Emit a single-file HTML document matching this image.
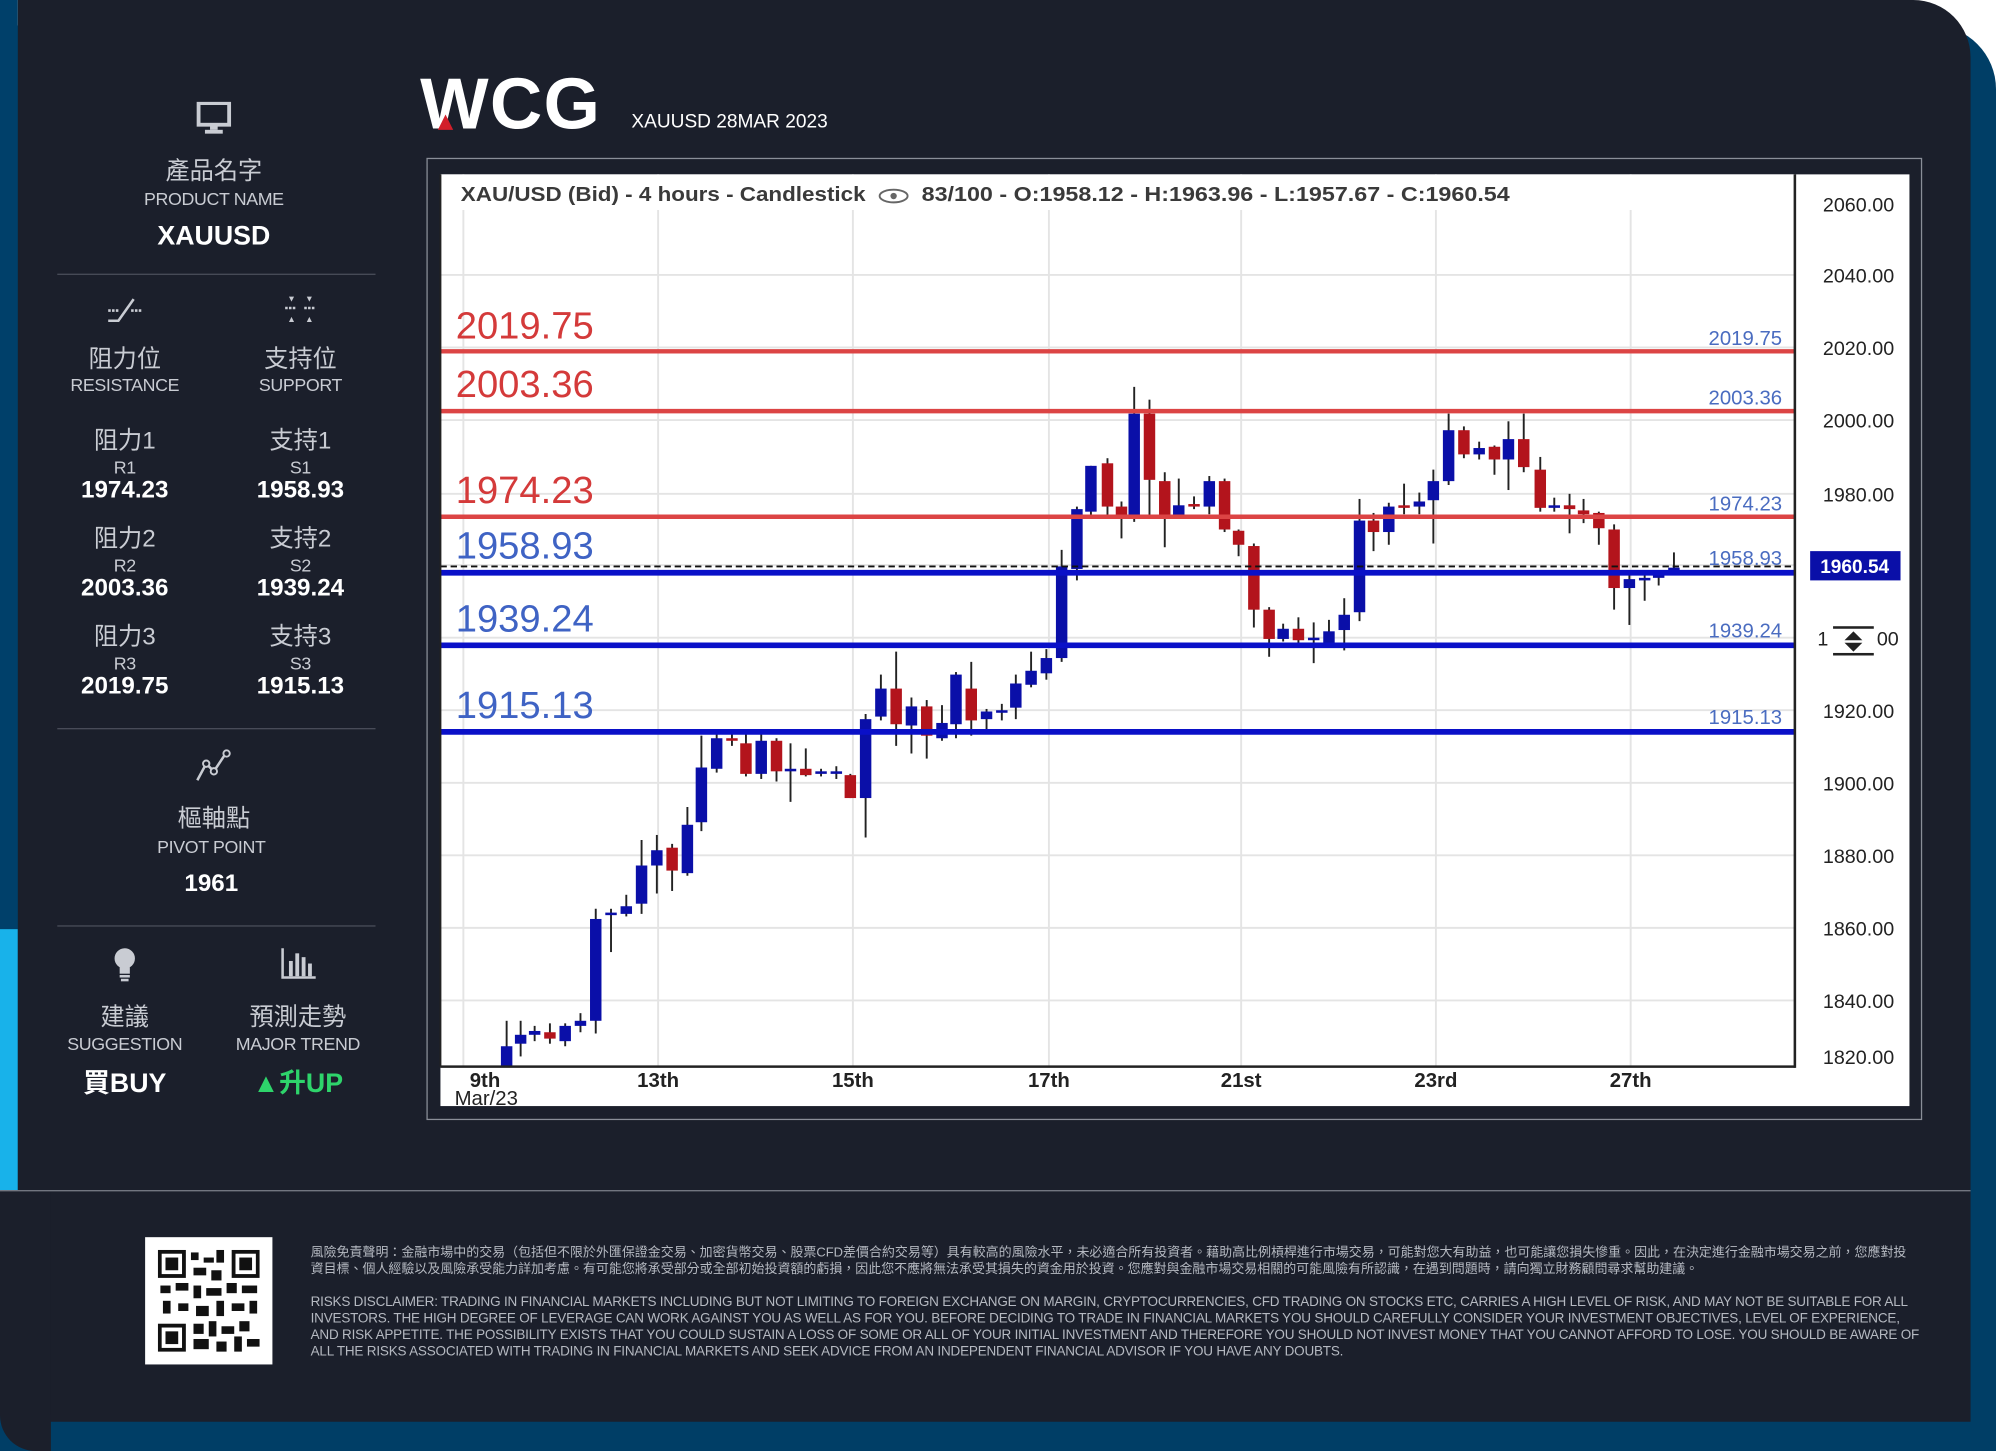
<!DOCTYPE html>
<html><head><meta charset="utf-8">
<style>
html,body{margin:0;padding:0;background:#fff;overflow:hidden}
#s{position:absolute;left:0;top:0;width:1568px;height:1140px;transform-origin:0 0;transform:scale(1.27296,1.27281);font-family:"Liberation Sans","Noto Sans CJK TC",sans-serif}
.a{position:absolute;white-space:nowrap;transform:translate(-50%,-50%);text-align:center}
.zh{color:#c9ccd3;font-size:19px}
.en{color:#c9ccd3;font-size:14px;letter-spacing:-0.3px}
.v{color:#fff;font-size:19px;font-weight:bold}
.ln{position:absolute;left:45px;width:250px;height:1px;background:#4a4e5a}
.disc{position:absolute;left:244px;color:#b5b9c1;font-size:10.6px;line-height:13px;width:1268px;letter-spacing:-0.15px}
</style></head><body>
<div id="s">
<div style="position:absolute;left:0;top:20px;width:1568px;height:1120px;background:#003e66;border-top-right-radius:50px"></div>
<div style="position:absolute;left:0;top:0;width:14px;height:1120px;background:#00406a"></div>
<div style="position:absolute;left:0;top:730px;width:14px;height:205px;background:#18b2ea"></div>
<div style="position:absolute;left:14px;top:0;width:1534px;height:1117px;background:#1b1f2b;border-top-right-radius:45px"></div>
<div style="position:absolute;left:0;top:935px;width:40px;height:205px;background:#1b1f2b;border-bottom-left-radius:28px"></div>
<div style="position:absolute;left:0;top:935px;width:1548px;height:1px;background:#7a7e88"></div>

<!-- left panel -->
<svg style="position:absolute;left:154px;top:80px" width="28" height="26"><rect x="2" y="1" width="24" height="17" fill="none" stroke="#c9ccd3" stroke-width="3"/><rect x="11" y="18" width="6" height="4" fill="#c9ccd3"/><rect x="7" y="22" width="14" height="3" fill="#c9ccd3"/></svg>
<div class="a zh" style="left:168px;top:133px">產品名字</div>
<div class="a en" style="left:168px;top:156px">PRODUCT NAME</div>
<div class="a v" style="left:168px;top:186px;font-size:21px">XAUUSD</div>
<div class="ln" style="top:215px"></div>
<svg style="position:absolute;left:83px;top:232px" width="30" height="22"><path d="M2 20 L10 20 L22 3" stroke="#c9ccd3" stroke-width="2" fill="none"/><path d="M2 12h8M20 12h8" stroke="#c9ccd3" stroke-width="2" stroke-dasharray="2 1"/></svg>
<svg style="position:absolute;left:221px;top:232px" width="30" height="22"><path d="M3 10h8M18 10h9" stroke="#c9ccd3" stroke-width="2" stroke-dasharray="2 1"/><path d="M6 1l2 4 2-4zM20 1l2 4 2-4zM6 21l2-4 2 4zM20 21l2-4 2 4z" fill="#c9ccd3"/></svg>
<div class="a zh" style="left:98px;top:281px">阻力位</div>
<div class="a en" style="left:98px;top:302px">RESISTANCE</div>
<div class="a zh" style="left:236px;top:281px">支持位</div>
<div class="a en" style="left:236px;top:302px">SUPPORT</div>
<div class="a zh" style="left:98px;top:345px">阻力1</div><div class="a en" style="left:98px;top:367px">R1</div><div class="a v" style="left:98px;top:386px">1974.23</div>
<div class="a zh" style="left:236px;top:345px">支持1</div><div class="a en" style="left:236px;top:367px">S1</div><div class="a v" style="left:236px;top:386px">1958.93</div>
<div class="a zh" style="left:98px;top:422px">阻力2</div><div class="a en" style="left:98px;top:444px">R2</div><div class="a v" style="left:98px;top:463px">2003.36</div>
<div class="a zh" style="left:236px;top:422px">支持2</div><div class="a en" style="left:236px;top:444px">S2</div><div class="a v" style="left:236px;top:463px">1939.24</div>
<div class="a zh" style="left:98px;top:499px">阻力3</div><div class="a en" style="left:98px;top:521px">R3</div><div class="a v" style="left:98px;top:540px">2019.75</div>
<div class="a zh" style="left:236px;top:499px">支持3</div><div class="a en" style="left:236px;top:521px">S3</div><div class="a v" style="left:236px;top:540px">1915.13</div>
<div class="ln" style="top:572px"></div>
<svg style="position:absolute;left:152px;top:588px" width="30" height="28"><path d="M3 25 L10 12 L16 18 L26 3" stroke="#c9ccd3" stroke-width="2" fill="none"/><circle cx="10" cy="12" r="2.5" fill="#1b1f2b" stroke="#c9ccd3" stroke-width="1.5"/><circle cx="16" cy="18" r="2.5" fill="#1b1f2b" stroke="#c9ccd3" stroke-width="1.5"/><circle cx="26" cy="4" r="2.5" fill="#1b1f2b" stroke="#c9ccd3" stroke-width="1.5"/></svg>
<div class="a zh" style="left:168px;top:642px">樞軸點</div>
<div class="a en" style="left:166px;top:665px">PIVOT POINT</div>
<div class="a v" style="left:166px;top:695px">1961</div>
<div class="ln" style="top:727px"></div>
<svg style="position:absolute;left:86px;top:743px" width="24" height="30"><circle cx="12" cy="10" r="8" fill="#c9ccd3"/><rect x="8" y="17" width="8" height="5" fill="#c9ccd3"/><rect x="8" y="23" width="8" height="2" fill="#c9ccd3"/><rect x="9" y="26" width="6" height="2" fill="#c9ccd3"/></svg>
<svg style="position:absolute;left:220px;top:743px" width="30" height="28"><path d="M2 2v23h26" stroke="#c9ccd3" stroke-width="2" fill="none"/><rect x="7" y="12" width="3" height="12" fill="#c9ccd3"/><rect x="12" y="6" width="3" height="18" fill="#c9ccd3"/><rect x="17" y="9" width="3" height="15" fill="#c9ccd3"/><rect x="22" y="14" width="3" height="10" fill="#c9ccd3"/></svg>
<div class="a zh" style="left:98px;top:798px">建議</div>
<div class="a en" style="left:98px;top:820px">SUGGESTION</div>
<div class="a zh" style="left:234px;top:798px">預測走勢</div>
<div class="a en" style="left:234px;top:820px">MAJOR TREND</div>
<div class="a v" style="left:98px;top:850px;font-size:21px">買BUY</div>
<div class="a v" style="left:234px;top:850px;font-size:21px;color:#2ed46b">▲升UP</div>

<!-- header -->
<div style="position:absolute;left:330px;top:50px;color:#fff;font-size:57px;font-weight:bold;letter-spacing:1px;line-height:64px">WCG</div>
<svg style="position:absolute;left:340px;top:86px" width="20" height="18"><path d="M10 4 L16 16 L4 16 Z" fill="#d21f2a"/></svg>
<div style="position:absolute;left:496px;top:87px;color:#fff;font-size:15px">XAUUSD 28MAR 2023</div>

<!-- chart frame -->
<div style="position:absolute;left:335px;top:124px;width:1175px;height:756px;border:1px solid #8a8e98;box-sizing:border-box"></div>
<svg style="position:absolute;left:0;top:0" width="1568" height="1140">
<rect x="346" y="137" width="1154" height="732" fill="#fff"/>
<g stroke="#e4e4e4" stroke-width="1.5">
<line x1="346" y1="160" x2="1410" y2="160"/><line x1="346" y1="216" x2="1410" y2="216"/><line x1="346" y1="273" x2="1410" y2="273"/><line x1="346" y1="330" x2="1410" y2="330"/><line x1="346" y1="388" x2="1410" y2="388"/><line x1="346" y1="444" x2="1410" y2="444"/><line x1="346" y1="501" x2="1410" y2="501"/><line x1="346" y1="558" x2="1410" y2="558"/><line x1="346" y1="615" x2="1410" y2="615"/><line x1="346" y1="672" x2="1410" y2="672"/><line x1="346" y1="729" x2="1410" y2="729"/><line x1="346" y1="786" x2="1410" y2="786"/>
<line x1="364" y1="137" x2="364" y2="838"/><line x1="517" y1="137" x2="517" y2="838"/><line x1="670" y1="137" x2="670" y2="838"/><line x1="824" y1="137" x2="824" y2="838"/><line x1="975" y1="137" x2="975" y2="838"/><line x1="1128" y1="137" x2="1128" y2="838"/><line x1="1281" y1="137" x2="1281" y2="838"/>
</g>
<rect x="346" y="137" width="1064" height="28" fill="#fff"/>
<text x="362" y="158" font-size="16" font-weight="bold" fill="#3a3a3a" font-family="Liberation Sans" textLength="318" lengthAdjust="spacingAndGlyphs">XAU/USD (Bid) - 4 hours - Candlestick</text>
<ellipse cx="702" cy="154" rx="11" ry="5" fill="none" stroke="#666" stroke-width="1.5"/><circle cx="702" cy="154" r="2.5" fill="#666"/>
<text x="724" y="158" font-size="16" font-weight="bold" fill="#3a3a3a" font-family="Liberation Sans" textLength="462" lengthAdjust="spacingAndGlyphs">83/100 - O:1958.12 - H:1963.96 - L:1957.67 - C:1960.54</text>
<g id="c" stroke="#222" stroke-width="1.5"></g>
<g stroke-width="3.5">
<line x1="346" y1="276" x2="1410" y2="276" stroke="#dc4444"/>
<line x1="346" y1="323" x2="1410" y2="323" stroke="#dc4444"/>
<line x1="346" y1="406" x2="1410" y2="406" stroke="#dc4444"/>
</g>
<line x1="346" y1="445" x2="1410" y2="445" stroke="#111" stroke-width="1.5" stroke-dasharray="5 3"/>
<g stroke="#0a10c8" stroke-width="4.5">
<line x1="346" y1="450" x2="1410" y2="450"/><line x1="346" y1="507" x2="1410" y2="507"/><line x1="346" y1="575" x2="1410" y2="575"/>
</g>
<g font-family="Liberation Sans" font-size="30">
<text x="358" y="266" fill="#d43a3a">2019.75</text>
<text x="358" y="312" fill="#d43a3a">2003.36</text>
<text x="358" y="395" fill="#d43a3a">1974.23</text>
<text x="358" y="439" fill="#3f63c4">1958.93</text>
<text x="358" y="496" fill="#3f63c4">1939.24</text>
<text x="358" y="564" fill="#3f63c4">1915.13</text>
</g>
<g font-family="Liberation Sans" font-size="16" fill="#4a6cc0" text-anchor="end">
<text x="1400" y="271">2019.75</text><text x="1400" y="318">2003.36</text><text x="1400" y="401">1974.23</text><text x="1400" y="444">1958.93</text><text x="1400" y="501">1939.24</text><text x="1400" y="569">1915.13</text>
</g>
<line x1="346" y1="137" x2="346" y2="838" stroke="#222" stroke-width="1.5"/>
<line x1="1410" y1="137" x2="1410" y2="839" stroke="#222" stroke-width="2"/>
<line x1="346" y1="838" x2="1410" y2="838" stroke="#222" stroke-width="2"/>
<g font-family="Liberation Sans" font-size="15.5" fill="#222" text-anchor="middle">
<text x="1460" y="166">2060.00</text><text x="1460" y="222">2040.00</text><text x="1460" y="279">2020.00</text><text x="1460" y="336">2000.00</text><text x="1460" y="394">1980.00</text><text x="1460" y="564">1920.00</text><text x="1460" y="621">1900.00</text><text x="1460" y="678">1880.00</text><text x="1460" y="735">1860.00</text><text x="1460" y="792">1840.00</text><text x="1460" y="836">1820.00</text>
<text x="1432" y="507">1</text><text x="1483" y="507">00</text>
</g>
<rect x="1422" y="433" width="71" height="23" fill="#0a0fa8"/>
<text x="1457" y="450" font-family="Liberation Sans" font-size="15" font-weight="bold" fill="#fff" text-anchor="middle">1960.54</text>
<g fill="#222"><rect x="1440" y="492" width="32" height="2"/><rect x="1440" y="513" width="32" height="2"/><path d="M1449 503l7-7 7 7zM1449 505l7 7 7-7z"/></g>
<g font-family="Liberation Sans" font-size="16" fill="#222" font-weight="bold" text-anchor="middle">
<text x="381" y="854">9th</text><text x="382" y="868" font-weight="normal">Mar/23</text><text x="517" y="854">13th</text><text x="670" y="854">15th</text><text x="824" y="854">17th</text><text x="975" y="854">21st</text><text x="1128" y="854">23rd</text><text x="1281" y="854">27th</text>
</g>
</svg>

<!-- footer -->
<div style="position:absolute;left:114px;top:972px;width:100px;height:100px;background:#fff"></div>
<svg style="position:absolute;left:124px;top:982px" width="80" height="80">
<g fill="#111">
<rect x="0" y="0" width="22" height="22"/><rect x="58" y="0" width="22" height="22"/><rect x="0" y="58" width="22" height="22"/>
</g>
<g fill="#fff"><rect x="3" y="3" width="16" height="16"/><rect x="61" y="3" width="16" height="16"/><rect x="3" y="61" width="16" height="16"/></g>
<g fill="#111"><rect x="6" y="6" width="10" height="10"/><rect x="64" y="6" width="10" height="10"/><rect x="6" y="64" width="10" height="10"/>
<rect x="26" y="2" width="6" height="6"/><rect x="36" y="6" width="8" height="4"/><rect x="46" y="0" width="6" height="10"/><rect x="28" y="14" width="10" height="6"/><rect x="42" y="16" width="8" height="8"/>
<rect x="2" y="28" width="8" height="6"/><rect x="14" y="26" width="10" height="6"/><rect x="28" y="28" width="6" height="10"/><rect x="38" y="30" width="12" height="6"/><rect x="54" y="26" width="8" height="8"/><rect x="66" y="28" width="12" height="6"/>
<rect x="4" y="40" width="6" height="10"/><rect x="16" y="42" width="8" height="6"/><rect x="30" y="44" width="10" height="8"/><rect x="46" y="40" width="6" height="12"/><rect x="58" y="42" width="10" height="6"/><rect x="72" y="40" width="6" height="10"/>
<rect x="28" y="58" width="8" height="8"/><rect x="40" y="56" width="6" height="12"/><rect x="50" y="60" width="10" height="6"/><rect x="64" y="56" width="8" height="8"/><rect x="28" y="70" width="12" height="8"/><rect x="46" y="72" width="8" height="8"/><rect x="60" y="68" width="6" height="12"/><rect x="70" y="70" width="10" height="6"/>
</g></svg>
<div class="disc" style="top:978px;font-size:10.2px;width:1262px;letter-spacing:0">風險免責聲明：金融市場中的交易（包括但不限於外匯保證金交易、加密貨幣交易、股票CFD差價合約交易等）具有較高的風險水平，未必適合所有投資者。藉助高比例槓桿進行市場交易，可能對您大有助益，也可能讓您損失慘重。因此，在決定進行金融市場交易之前，您應對投資目標、個人經驗以及風險承受能力詳加考慮。有可能您將承受部分或全部初始投資額的虧損，因此您不應將無法承受其損失的資金用於投資。您應對與金融市場交易相關的可能風險有所認識，在遇到問題時，請向獨立財務顧問尋求幫助建議。</div>
<div class="disc" style="top:1017px">RISKS DISCLAIMER: TRADING IN FINANCIAL MARKETS INCLUDING BUT NOT LIMITING TO FOREIGN EXCHANGE ON MARGIN, CRYPTOCURRENCIES, CFD TRADING ON STOCKS ETC, CARRIES A HIGH LEVEL OF RISK, AND MAY NOT BE SUITABLE FOR ALL INVESTORS. THE HIGH DEGREE OF LEVERAGE CAN WORK AGAINST YOU AS WELL AS FOR YOU. BEFORE DECIDING TO TRADE IN FINANCIAL MARKETS YOU SHOULD CAREFULLY CONSIDER YOUR INVESTMENT OBJECTIVES, LEVEL OF EXPERIENCE, AND RISK APPETITE. THE POSSIBILITY EXISTS THAT YOU COULD SUSTAIN A LOSS OF SOME OR ALL OF YOUR INITIAL INVESTMENT AND THEREFORE YOU SHOULD NOT INVEST MONEY THAT YOU CANNOT AFFORD TO LOSE. YOU SHOULD BE AWARE OF ALL THE RISKS ASSOCIATED WITH TRADING IN FINANCIAL MARKETS AND SEEK ADVICE FROM AN INDEPENDENT FINANCIAL ADVISOR IF YOU HAVE ANY DOUBTS.</div>
</div>
<script>
var d=[
[398,'b',822,838,802,838],[409,'b',813,820,802,830],[420,'b',810,813,806,818],[432,'r',811,816,804,820],[444,'b',806,818,804,822],[456,'b',802,806,796,811],[468,'b',722,802,714,812],[480,'b',717,719,714,748],[492,'b',712,718,703,720],[504,'b',680,710,660,718],[516,'b',668,680,656,702],[528,'r',666,684,663,700],[540,'b',648,686,634,688],[551,'b',603,646,578,653],[563,'b',580,604,576,607],[575,'r',580,582,576,586],[586,'r',584,608,576,610],[598,'b',582,608,576,612],[610,'r',582,606,580,614],[621,'b',604,606,584,630],[633,'r',604,609,588,610],[645,'b',606,608,604,610],[657,'b',606,608,602,612],[668,'r',609,627,608,627],[680,'b',565,627,561,658],[692,'b',541,563,530,566],[704,'r',541,569,512,586],[716,'b',555,570,548,592],[728,'r',555,578,550,596],[740,'b',568,580,554,582],[751,'b',530,569,528,580],[763,'r',541,566,520,578],[775,'b',559,565,557,576],[787,'b',558,560,553,566],[798,'b',537,556,530,565],[810,'b',527,538,512,540],[822,'b',517,529,510,534],[834,'b',445,517,432,520],[846,'b',400,447,398,456],[857,'b',366,402,366,406],
[870,'r',364,398,360,406],[881,'r',398,405,394,423],[891,'b',325,405,304,410],[903,'r',325,377,314,405],[915,'r',378,405,371,430],[926,'b',397,405,376,405],[938,'r',396,398,390,400],[950,'b',378,398,374,404],[962,'r',378,416,376,418],[973,'r',417,428,416,437],[985,'r',429,479,427,493],[997,'r',479,502,477,516],[1008,'b',494,502,490,504],[1020,'r',494,503,485,505],[1032,'b',501,503,489,521],[1044,'b',496,505,487,508],[1056,'b',483,495,470,511],[1068,'b',409,481,392,488],[1079,'r',409,418,403,433],[1091,'b',398,418,395,428],[1103,'r',397,399,380,404],[1115,'b',394,398,387,404],[1126,'b',378,393,369,427],[1138,'b',338,378,325,381],[1150,'r',338,357,335,360],[1162,'b',352,357,347,361],[1174,'r',351,361,350,373],[1185,'b',345,361,331,385],[1197,'r',345,367,325,371],[1210,'r',369,399,359,402],[1221,'b',397,399,391,402],[1233,'r',397,400,388,419],[1244,'r',401,404,392,411],[1256,'r',403,415,402,428],[1268,'r',416,462,412,479],[1280,'b',455,462,448,491],[1292,'b',454,456,448,472],[1303,'b',449,454,448,460],[1315,'b',446,449,434,449]];
var g=document.getElementById('c'),h='';
d.forEach(function(c){var t=c[2],b=c[3];if(b-t<2)b=t+2;
h+='<line x1="'+c[0]+'" y1="'+c[4]+'" x2="'+c[0]+'" y2="'+c[5]+'"/>';
h+='<rect x="'+(c[0]-4.5)+'" y="'+t+'" width="9" height="'+(b-t)+'" fill="'+(c[1]=='b'?'#0a0fa8':'#b3141c')+'" stroke="none"/>';});
g.innerHTML=h;
</script>
</body></html>
